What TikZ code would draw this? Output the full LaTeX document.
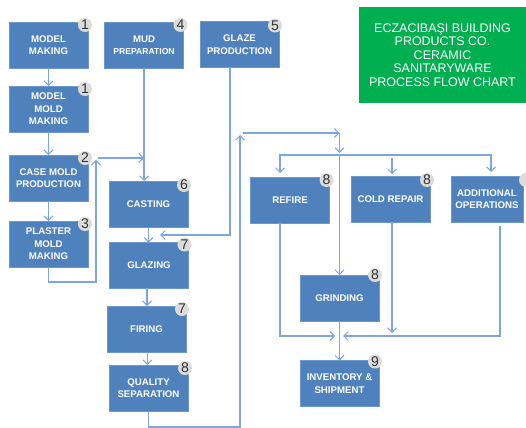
\documentclass[tikz,border=0pt]{standalone}
\usepackage{fontspec}
\setmainfont{Liberation Sans}
\usetikzlibrary{calc,arrows.meta}

\definecolor{boxblue}{HTML}{4F81BD}
\definecolor{boxedge}{HTML}{6C98CE}
\definecolor{linkblue}{HTML}{7EA6DC}
\definecolor{badgegray}{HTML}{DCDCDC}
\definecolor{badgetext}{HTML}{333333}
\definecolor{titlegreen}{HTML}{00B050}

\begin{document}
\begin{tikzpicture}[x=0.02cm,y=-0.02cm,every node/.style={outer sep=0pt}]

	\tikzstyle{proc}=[draw=boxedge,line width=0.5pt,fill=boxblue,text=white,align=center,inner sep=0pt,
		minimum width=1.58cm,minimum height=0.92cm,font=\bfseries\fontsize{5.5}{7.1}\selectfont]
	\tikzstyle{badge}=[circle,fill=badgegray,inner sep=0pt,minimum size=0.28cm,text=badgetext,
		font=\fontsize{8}{8}\selectfont]
	\tikzstyle{conn}=[draw=linkblue,line width=0.6pt,-{Straight Barb[length=2.5pt,width=5pt]}]
	\tikzstyle{title}=[fill=titlegreen,text=white,align=center,inner sep=0pt,
		minimum width=3.34cm,minimum height=1.92cm,font=\fontsize{7.1}{7.7}\selectfont]

	\useasboundingbox (0,0) rectangle (526,428);

	% title
	\node (ttl) at (442.5,55) [title] {ECZACIBAŞI BUILDING\\PRODUCTS CO.\\CERAMIC\\SANITARYWARE\\PROCESS FLOW CHART};

	% mold line
	\node (mm) at (48.5,45) [proc] {MODEL\\MAKING};
	\node (mmm) at (48.5,109) [proc] {MODEL\\MOLD\\MAKING};
	\node (cmp) at (48.5,178) [proc] {CASE MOLD\\PRODUCTION};
	\node (pmm) at (48.5,244) [proc] {PLASTER\\MOLD\\MAKING};

	% main line
	\node (mud) at (144,45) [proc] {MUD\\{\fontsize{4.9}{7.1}\selectfont PREPARATION}};
	\node (glaze) at (239.5,44.5) [proc] {GLAZE\\PRODUCTION};
	\node (cast) at (148.5,204) [proc] {CASTING};
	\node (glzg) at (149,265.5) [proc] {GLAZING};
	\node (fire) at (146.5,329) [proc] {FIRING};
	\node (qs) at (148.5,388) [proc] {QUALITY\\SEPARATION};

	% finishing
	\node (refire) at (290,200) [proc] {REFIRE};
	\node (cold) at (390.5,199) [proc] {COLD REPAIR};
	\node (addl) at (487,199) [proc,minimum width=1.44cm] {ADDITIONAL\\OPERATIONS};
	\node (grind) at (339.5,298) [proc] {GRINDING};
	\node (inv) at (339.5,383.5) [proc] {INVENTORY \&\\SHIPMENT};

	% step numbers
	\node (n1) at ($(mm.north east)+(-3,3)$) [badge] {1};
	\node (n1b) at ($(mmm.north east)+(-3,3)$) [badge] {1};
	\node (n2) at ($(cmp.north east)+(-3,3)$) [badge] {2};
	\node (n3) at ($(pmm.north east)+(-3,3)$) [badge] {3};
	\node (n4) at ($(mud.north east)+(-3,3)$) [badge] {4};
	\node (n5) at ($(glaze.north east)+(-4,4)$) [badge] {5};
	\node (n6) at ($(cast.north east)+(-4,4)$) [badge] {6};
	\node (n7) at ($(glzg.north east)+(-4,2)$) [badge] {7};
	\node (n7b) at ($(fire.north east)+(-4,3)$) [badge] {7};
	\node (n8) at ($(qs.north east)+(-3,3)$) [badge] {8};
	\node (n8b) at ($(refire.north east)+(-3,3)$) [badge] {8};
	\node (n8c) at ($(cold.north east)+(-3,4)$) [badge] {8};
	\node (n8d) at ($(addl.north east)+(3,4)$) [badge] {};
	\node (n8e) at ($(grind.north east)+(-4,0)$) [badge] {8};
	\node (n9) at ($(inv.north east)+(-4,1)$) [badge] {9};

	% connectors
	\draw [conn] (mm) -- (mmm);
	\draw [conn] (mmm) -- (cmp);
	\draw [conn] (cmp) -- (pmm);
	\coordinate (pTurn) at (96,160);
	\coordinate (pJoin) at (98,158);
	\draw [conn] (pmm.south) -- ++(0,15) -| (pTurn);
	\draw [conn] (pJoin) -- (pJoin -| mud.south);
	\draw [conn] (mud.south) -- (mud.south |- cast.north);
	\coordinate (glIn) at (160,235);
	\draw [conn] ($(glaze.south)+(-9.5,0)$) |- (glIn);
	\draw [conn] (cast.south) -- (cast.south |- glzg.north);
	\draw [conn] ($(glzg.south)+(-2,0)$) -- ($(glzg.south |- fire.north)+(-2,0)$);
	\draw [conn] ($(fire.south)+(1,0)$) -- ($(fire.south |- qs.north)+(1,0)$);

	\coordinate (qTurn) at (240,135);
	\coordinate (qJoin) at (243,133);
	\coordinate (dist) at (grind.north |- 0,155);
	\draw [conn] (qs.south) -- ++(0,16) -| (qTurn);
	\draw [conn] (qJoin) -- (qJoin -| grind.north);
	\draw [conn] (qJoin -| grind.north) -- ($(dist)+(0,-2)$);
	\draw [conn] (dist) -- (grind.north);
	\draw [conn] (dist) -| ($(refire.north)+(-10,-4)$);
	\draw [conn] (dist) -| ($(addl.north)+(4,-4)$);
	\draw [conn] ($(cold.north)+(1.5,-18)$) -- ($(cold.north)+(1.5,-2)$);

	\coordinate (mL) at (335,336);
	\coordinate (mR) at (343,336);
	\draw [conn] ($(refire.south)+(-10,0)$) |- (mL);
	\draw [conn] ($(cold.south)+(1.5,0)$) -- ++(0,111);
	\draw [conn] ($(addl.south)+(13,4)$) |- (mR);
	\draw [conn] (grind) -- (inv);

\end{tikzpicture}
\end{document}
